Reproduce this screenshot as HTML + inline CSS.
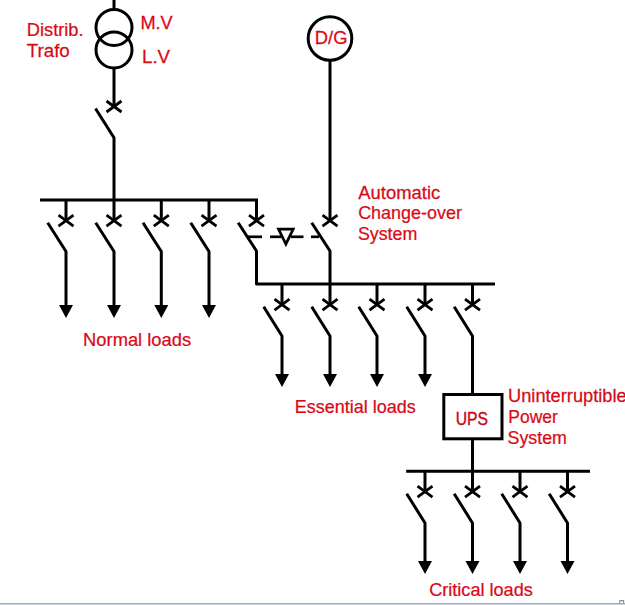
<!DOCTYPE html>
<html><head><meta charset="utf-8"><style>
html,body{margin:0;padding:0;background:#fff;}
body{width:625px;height:605px;overflow:hidden;position:relative;}
svg{position:absolute;left:0;top:0;}
</style></head><body>
<svg width="625" height="605" viewBox="0 0 625 605">
<rect x="0" y="603" width="625" height="1" fill="#a2abb8"/>
<rect x="0" y="604" width="625" height="1" fill="#cdd6de"/>
<path d="M619.8,603.5 V600.6 H623.6 V603.5" fill="none" stroke="#8a8f96" stroke-width="1.1"/>
<g stroke="#000" fill="none" stroke-linecap="butt">
<line x1="114" y1="0" x2="114" y2="9" stroke-width="3"/>
<circle cx="114" cy="27.5" r="18" fill="none" stroke-width="3"/>
<circle cx="114" cy="50" r="18" fill="none" stroke-width="3"/>
<line x1="114" y1="67" x2="114" y2="106.5" stroke-width="3"/>
<line x1="106.5" y1="101.0" x2="121.5" y2="112.0" stroke-width="2.8"/>
<line x1="106.5" y1="112.0" x2="121.5" y2="101.0" stroke-width="2.8"/>
<polyline points="95.5,108.5 114,137.8 114,200" stroke-width="3" stroke-linejoin="round"/>
<polyline points="40,200 256.5,200 256.5,220.7" stroke-width="3"/>
<line x1="66" y1="200" x2="66" y2="220.7" stroke-width="3"/>
<line x1="58.5" y1="215.2" x2="73.5" y2="226.2" stroke-width="2.8"/>
<line x1="58.5" y1="226.2" x2="73.5" y2="215.2" stroke-width="2.8"/>
<polyline points="47.7,222.7 66,251.5 66,306" stroke-width="3" stroke-linejoin="round"/>
<polygon points="59,305 73,305 66,318" fill="#000" stroke="none"/>
<line x1="114" y1="200" x2="114" y2="220.7" stroke-width="3"/>
<line x1="106.5" y1="215.2" x2="121.5" y2="226.2" stroke-width="2.8"/>
<line x1="106.5" y1="226.2" x2="121.5" y2="215.2" stroke-width="2.8"/>
<polyline points="95.7,222.7 114,251.5 114,306" stroke-width="3" stroke-linejoin="round"/>
<polygon points="107,305 121,305 114,318" fill="#000" stroke="none"/>
<line x1="161.3" y1="200" x2="161.3" y2="220.7" stroke-width="3"/>
<line x1="153.8" y1="215.2" x2="168.8" y2="226.2" stroke-width="2.8"/>
<line x1="153.8" y1="226.2" x2="168.8" y2="215.2" stroke-width="2.8"/>
<polyline points="143.0,222.7 161.3,251.5 161.3,306" stroke-width="3" stroke-linejoin="round"/>
<polygon points="154.3,305 168.3,305 161.3,318" fill="#000" stroke="none"/>
<line x1="209" y1="200" x2="209" y2="220.7" stroke-width="3"/>
<line x1="201.5" y1="215.2" x2="216.5" y2="226.2" stroke-width="2.8"/>
<line x1="201.5" y1="226.2" x2="216.5" y2="215.2" stroke-width="2.8"/>
<polyline points="190.7,222.7 209,251.5 209,306" stroke-width="3" stroke-linejoin="round"/>
<polygon points="202,305 216,305 209,318" fill="#000" stroke="none"/>
<line x1="249.0" y1="215.2" x2="264.0" y2="226.2" stroke-width="2.8"/>
<line x1="249.0" y1="226.2" x2="264.0" y2="215.2" stroke-width="2.8"/>
<polyline points="238.2,222.7 256.5,251 256.5,284 495,284" stroke-width="3" stroke-linejoin="round"/>
<circle cx="330" cy="38.5" r="21.8" fill="none" stroke-width="3"/>
<line x1="330" y1="60" x2="330" y2="220" stroke-width="3"/>
<line x1="322.5" y1="215.2" x2="337.5" y2="226.2" stroke-width="2.8"/>
<line x1="322.5" y1="226.2" x2="337.5" y2="215.2" stroke-width="2.8"/>
<polyline points="311.7,222.7 330,251 330,284" stroke-width="3" stroke-linejoin="round"/>
<line x1="248" y1="236.8" x2="262" y2="236.8" stroke-width="2.7"/>
<line x1="270" y1="236.8" x2="281" y2="236.8" stroke-width="2.7"/>
<line x1="291" y1="236.8" x2="303.5" y2="236.8" stroke-width="2.7"/>
<line x1="311" y1="236.8" x2="319" y2="236.8" stroke-width="2.7"/>
<polygon points="278.5,229.2 293.2,229.2 285.9,244.2" fill="none" stroke-width="2.7" stroke-linejoin="miter"/>
<line x1="282" y1="284" x2="282" y2="304.7" stroke-width="3"/>
<line x1="274.5" y1="299.2" x2="289.5" y2="310.2" stroke-width="2.8"/>
<line x1="274.5" y1="310.2" x2="289.5" y2="299.2" stroke-width="2.8"/>
<polyline points="263.7,306.7 282,336.0 282,375" stroke-width="3" stroke-linejoin="round"/>
<polygon points="275,374 289,374 282,387" fill="#000" stroke="none"/>
<line x1="330" y1="284" x2="330" y2="304.7" stroke-width="3"/>
<line x1="322.5" y1="299.2" x2="337.5" y2="310.2" stroke-width="2.8"/>
<line x1="322.5" y1="310.2" x2="337.5" y2="299.2" stroke-width="2.8"/>
<polyline points="311.7,306.7 330,336.0 330,375" stroke-width="3" stroke-linejoin="round"/>
<polygon points="323,374 337,374 330,387" fill="#000" stroke="none"/>
<line x1="377" y1="284" x2="377" y2="304.7" stroke-width="3"/>
<line x1="369.5" y1="299.2" x2="384.5" y2="310.2" stroke-width="2.8"/>
<line x1="369.5" y1="310.2" x2="384.5" y2="299.2" stroke-width="2.8"/>
<polyline points="358.7,306.7 377,336.0 377,375" stroke-width="3" stroke-linejoin="round"/>
<polygon points="370,374 384,374 377,387" fill="#000" stroke="none"/>
<line x1="425" y1="284" x2="425" y2="304.7" stroke-width="3"/>
<line x1="417.5" y1="299.2" x2="432.5" y2="310.2" stroke-width="2.8"/>
<line x1="417.5" y1="310.2" x2="432.5" y2="299.2" stroke-width="2.8"/>
<polyline points="406.7,306.7 425,336.0 425,375" stroke-width="3" stroke-linejoin="round"/>
<polygon points="418,374 432,374 425,387" fill="#000" stroke="none"/>
<line x1="472.5" y1="284" x2="472.5" y2="304.7" stroke-width="3"/>
<line x1="465.0" y1="299.2" x2="480.0" y2="310.2" stroke-width="2.8"/>
<line x1="465.0" y1="310.2" x2="480.0" y2="299.2" stroke-width="2.8"/>
<polyline points="454.2,306.7 472.5,336.0 472.5,394" stroke-width="3" stroke-linejoin="round"/>
<rect x="443.8" y="394.5" width="58.2" height="44.3" fill="none" stroke-width="3"/>
<line x1="472.5" y1="438" x2="472.5" y2="471.3" stroke-width="3"/>
<line x1="406.2" y1="471.3" x2="590" y2="471.3" stroke-width="3"/>
<line x1="425" y1="471" x2="425" y2="491.7" stroke-width="3"/>
<line x1="417.5" y1="486.2" x2="432.5" y2="497.2" stroke-width="2.8"/>
<line x1="417.5" y1="497.2" x2="432.5" y2="486.2" stroke-width="2.8"/>
<polyline points="406.7,493.7 425,523.0 425,562" stroke-width="3" stroke-linejoin="round"/>
<polygon points="418,561 432,561 425,574" fill="#000" stroke="none"/>
<line x1="472.5" y1="471" x2="472.5" y2="491.7" stroke-width="3"/>
<line x1="465.0" y1="486.2" x2="480.0" y2="497.2" stroke-width="2.8"/>
<line x1="465.0" y1="497.2" x2="480.0" y2="486.2" stroke-width="2.8"/>
<polyline points="454.2,493.7 472.5,523.0 472.5,562" stroke-width="3" stroke-linejoin="round"/>
<polygon points="465.5,561 479.5,561 472.5,574" fill="#000" stroke="none"/>
<line x1="520" y1="471" x2="520" y2="491.7" stroke-width="3"/>
<line x1="512.5" y1="486.2" x2="527.5" y2="497.2" stroke-width="2.8"/>
<line x1="512.5" y1="497.2" x2="527.5" y2="486.2" stroke-width="2.8"/>
<polyline points="501.7,493.7 520,523.0 520,562" stroke-width="3" stroke-linejoin="round"/>
<polygon points="513,561 527,561 520,574" fill="#000" stroke="none"/>
<line x1="567.5" y1="471" x2="567.5" y2="491.7" stroke-width="3"/>
<line x1="560.0" y1="486.2" x2="575.0" y2="497.2" stroke-width="2.8"/>
<line x1="560.0" y1="497.2" x2="575.0" y2="486.2" stroke-width="2.8"/>
<polyline points="549.2,493.7 567.5,523.0 567.5,562" stroke-width="3" stroke-linejoin="round"/>
<polygon points="560.5,561 574.5,561 567.5,574" fill="#000" stroke="none"/>
</g>
<g fill="#d80a16" stroke="#d80a16" stroke-width="0.25" font-family="'Liberation Sans', sans-serif">
<text transform="translate(26.82,35.7) scale(0.986,1)" font-size="18.5" >Distrib.</text>
<text transform="translate(26.73,56.5) scale(1.014,1)" font-size="18.5" >Trafo</text>
<text transform="translate(140.42,29.4) scale(0.983,1)" font-size="18.5" >M.V</text>
<text transform="translate(141.99,63.0) scale(1.014,1)" font-size="18.5" >L.V</text>
<text transform="translate(314.81,44.3) scale(0.993,1)" font-size="18.5" >D/G</text>
<text transform="translate(358.28,198.7) scale(0.997,1)" font-size="18.5" >Automatic</text>
<text transform="translate(358.15,219.2) scale(0.97,1)" font-size="18.5" >Change-over</text>
<text transform="translate(357.9,240.1) scale(0.965,1)" font-size="18.5" >System</text>
<text transform="translate(83.11,345.8) scale(0.992,1)" font-size="18.5" >Normal loads</text>
<text transform="translate(294.78,413.3) scale(0.972,1)" font-size="18.5" >Essential loads</text>
<text transform="translate(455.66,425.3) scale(0.848,1)" font-size="18.5" fill="#c80a1a" stroke="#c80a1a" stroke-width="0.45">UPS</text>
<text transform="translate(508.02,401.6) scale(0.987,1)" font-size="18.5" >Uninterruptible</text>
<text transform="translate(508.36,422.9) scale(0.942,1)" font-size="18.5" >Power</text>
<text transform="translate(429.14,596.3) scale(0.98,1)" font-size="18.5" >Critical loads</text>
<text transform="translate(507.5,443.6) scale(0.965,1)" font-size="18.5" >System</text>
</g>
</svg>
</body></html>
